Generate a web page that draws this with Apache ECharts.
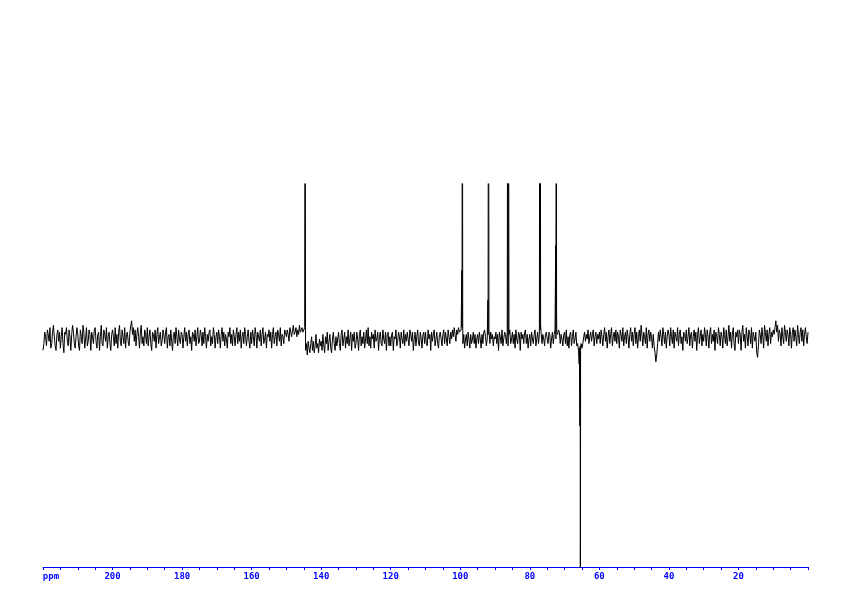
<!DOCTYPE html>
<html>
<head>
<meta charset="utf-8">
<script src="https://cdn.jsdelivr.net/npm/echarts@6/dist/echarts.min.js"></script>
<style>
html,body{margin:0;padding:0;background:#fff;}
#chart{width:842px;height:596px;}
</style>
</head>
<body>
<div id="chart"></div>
<script>
// Spectrum baseline (noise), sampled every 0.25 ppm from 220 ppm down to 0 ppm
const ppmStart = 220;
const ppmStep = 0.25;
const noise = [
  -5,-2,3,1,-3,4,2,-1,5,-4,-2,3,6,1,-3,-5,2,4,-1,3,
  -4,1,5,-2,-6,3,2,5,-1,-3,4,1,-5,2,6,3,-2,-4,1,5,
  2,-3,-5,4,1,-2,6,3,-4,0,5,-3,-1,4,2,-5,3,1,-2,4,
  5,-1,-4,2,3,-5,1,6,-2,-3,4,2,-1,5,-4,1,3,-2,-5,2,
  4,1,-3,5,-2,2,-4,3,6,-1,-3,4,1,-2,5,-4,2,3,-1,-3,
  3,6,8,2,5,-1,4,-3,2,5,1,-4,3,6,-2,1,-3,4,2,-2,
  5,-3,1,4,-2,-5,3,2,-1,4,-4,2,5,-2,1,3,-3,-1,4,2,
  -2,3,5,-4,1,2,-3,4,-1,-5,2,3,-2,5,1,-3,4,0,-2,3,
  2,-4,1,5,-1,3,-3,2,4,-2,1,-5,3,2,-1,4,-3,1,5,-2,
  -1,4,2,-3,3,-2,5,1,-4,2,-1,3,4,-3,1,-2,5,2,-4,1,
  3,-2,4,1,-4,2,5,-1,3,-3,2,0,-4,3,1,5,-2,2,-3,4,
  1,-3,2,5,-2,3,-1,4,-4,1,3,-2,5,2,-3,1,4,-1,-4,3,
  -2,4,1,-3,5,2,-4,3,1,-1,4,-3,2,5,-2,0,3,-4,2,1,
  4,-1,3,-4,2,5,-2,1,3,-3,4,2,-1,5,-3,2,1,-2,4,3,
  1,4,2,-1,5,3,1,4,6,2,3,5,1,4,2,6,3,4,5,3,
  4,5,-5,-2,-7,-1,-4,-6,-2,1,-5,-1,-6,-3,2,-4,-2,-6,0,-3,
  -1,-5,2,-3,-6,1,-2,3,-5,-1,2,-4,-6,0,3,-2,-5,1,-3,0,
  3,-2,-5,2,4,-3,0,3,-4,1,-2,4,-3,0,3,-5,2,-1,3,-4,
  -2,3,0,-5,2,4,-3,1,-2,3,-4,0,4,-2,5,-3,1,-4,3,0,
  2,-4,4,-1,0,3,-5,1,3,-2,-3,4,0,-2,3,-5,2,3,-3,1,
  -3,2,3,-5,1,0,4,-3,-1,3,1,-4,3,0,-2,4,-3,2,-1,3,
  0,-3,4,2,-1,3,-5,0,3,-3,1,4,-2,-3,3,0,-4,2,3,-2,
  3,-2,-3,4,0,2,-5,3,-1,2,4,-3,0,3,-2,-4,2,3,0,-3,
  2,4,-2,3,0,-3,4,1,-2,3,0,4,1,5,2,-1,4,2,5,3,
  3,4,5,-2,2,-4,0,2,-3,3,0,-4,2,-2,0,3,-2,2,-4,0,
  2,-2,3,0,-4,2,-2,3,4,1,-3,0,2,4,-2,3,0,2,-3,1,
  0,3,-2,2,-5,3,1,-2,4,-3,0,3,2,-2,3,-3,2,4,-2,0,
  3,-2,2,-4,4,0,-2,3,2,-5,3,0,2,-2,3,4,-2,2,-4,0,
  2,-3,3,0,-2,2,4,-3,0,3,-2,2,4,3,-2,2,0,-3,2,3,
  0,-2,3,2,-4,0,3,-2,2,4,0,3,2,4,3,-2,2,0,-3,2,
  3,-2,4,-3,1,-4,2,3,-3,1,4,-2,0,3,-3,-2,-5,-4,-3,-2,
  -4,-2,1,3,-1,2,0,4,-2,1,3,-1,2,4,-3,1,3,-2,2,0,
  3,-2,4,1,-3,2,5,-1,3,-4,1,4,-2,2,5,-3,1,3,-1,4,
  -2,3,1,-4,4,2,-1,5,-3,1,3,-2,4,1,-4,2,5,-1,3,-3,
  2,5,-2,3,-4,1,4,-1,6,2,-3,3,1,-2,5,-4,2,4,-1,3,
  1,-4,2,-3,-6,-10,-7,-2,3,-1,4,1,-3,5,2,-2,3,-4,1,4,
  2,-3,5,1,-2,4,-4,3,1,-1,5,-3,2,4,-2,1,-5,3,2,-1,
  4,-2,1,5,-3,2,3,-4,1,4,-1,3,-5,2,5,-2,1,4,-3,2,
  -1,5,2,-3,4,1,-4,3,5,-2,2,-1,4,-5,3,1,-2,5,2,-3,
  3,1,-4,5,2,-2,4,-3,1,6,-1,3,-4,2,5,-2,-5,3,1,4,
  -2,4,2,-5,3,6,-1,2,-4,5,1,-3,4,2,-2,5,-4,3,1,-1,
  3,-6,-8,-3,4,2,-2,5,1,-4,6,3,-1,4,-3,2,5,-2,3,1,
  4,2,5,8,3,6,-1,4,2,-3,5,1,-2,6,3,-1,4,2,-3,5,
  2,-4,3,5,-1,4,1,-3,6,2,-2,3,5,-1,4,-3,2,5,1,-2,
  3
];
// Resonance lines (ppm) and their intensities (off-scale values are clipped)
const peakPpm = [144.6, 99.55, 99.4, 99.3, 92.05, 91.9, 86.3, 86.15, 77.1, 77.0, 76.9, 72.55, 72.4, 72.3, 65.8, 65.6, 65.5, 65.4];
const peakVal = [200, 30, 200, 7, 17, 200, 200, 200, 200, 200, 6, 41, 200, 11, -11, -38, -300, -5];
// Axis ticks
const axisMin = 0, axisMax = 220, axisStep = 20;

const pts = noise.map((v, i) => [ppmStart - i * ppmStep, v]);
peakPpm.forEach((p, i) => pts.push([p, peakVal[i]]));
pts.sort((a, b) => b[0] - a[0]);

const chart = echarts.init(document.getElementById('chart'), null, {renderer: 'canvas'});
chart.setOption({
  animation: false,
  backgroundColor: '#ffffff',
  grid: {left: 43, right: 34, top: 184, bottom: 29, containLabel: false},
  xAxis: {
    type: 'value', inverse: true, min: axisMin, max: axisMax, interval: axisStep,
    axisLine: {onZero: false, lineStyle: {color: '#0000ff', width: 1}},
    axisTick: {show: true, length: 3, lineStyle: {color: '#0000ff', width: 1}},
    minorTick: {show: true, splitNumber: 4, length: 3, lineStyle: {color: '#0000ff', width: 1}},
    splitLine: {show: false},
    axisLabel: {
      color: '#0000ff', fontSize: 9, fontFamily: 'DejaVu Sans Mono', fontWeight: 'bold', margin: 5,
      showMinLabel: true, showMaxLabel: true,
      formatter: v => v === axisMax ? '{p|ppm}' : (v === axisMin ? '' : String(v)),
      rich: {p: {color: '#0000ff', fontSize: 9, fontFamily: 'DejaVu Sans Mono', fontWeight: 'bold', padding: [0, 0, 0, 16]}}
    }
  },
  yAxis: {type: 'value', min: -100, max: 68, show: false, splitLine: {show: false}},
  series: [{
    type: 'line', data: pts, symbol: 'none', clip: true,
    lineStyle: {color: '#000000', width: 1}
  }]
});
</script>
</body>
</html>
